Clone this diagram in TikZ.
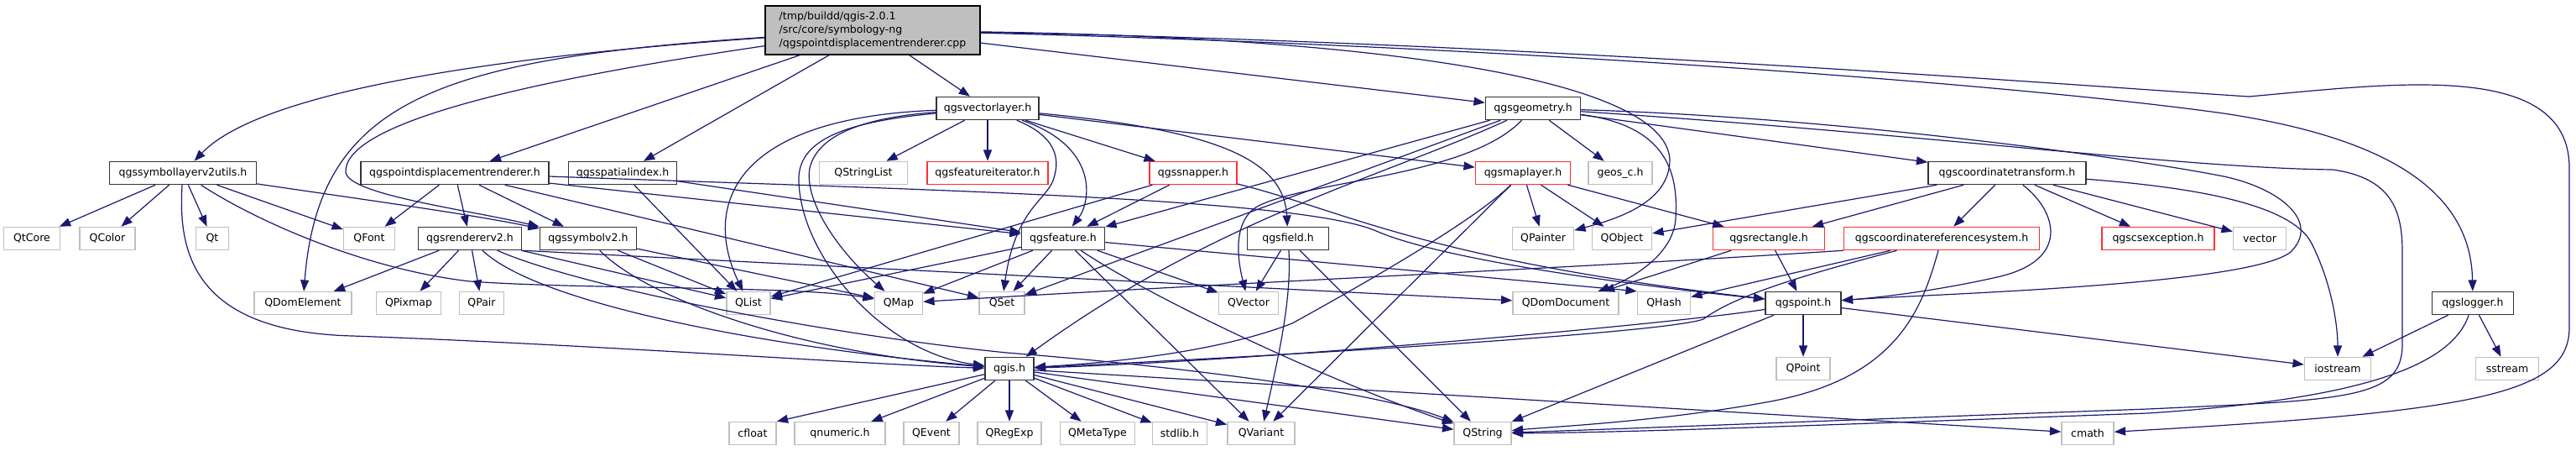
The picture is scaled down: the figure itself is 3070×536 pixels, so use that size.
\documentclass[tikz,border=0pt]{standalone}
\usepackage{fontspec}
\setmainfont{DejaVu Sans}
\usepackage{xcolor}
\definecolor{depblue}{HTML}{191970}
\definecolor{extgray}{HTML}{BFBFBF}
\definecolor{truncred}{HTML}{FF3030}
\usetikzlibrary{arrows.meta}
\tikzset{
  hdr/.style    ={rectangle, draw=black!80, fill=white, line width=1.1pt, inner sep=1pt,
                  minimum height=20.25pt, font=\fontsize{9.4}{11}\selectfont},
  ext/.style    ={hdr, draw=extgray},
  trunc/.style  ={hdr, draw=truncred},
  srcfile/.style={hdr, fill=extgray, draw=black, align=left, minimum height=43.5pt,
                  font=\fontsize{9.4}{12}\selectfont},
  wd/.style     ={minimum width=#1*0.75pt},
  dep/.style    ={-{Triangle[length=10pt,width=7.5pt]}, draw=depblue, line width=0.9pt},
}

\begin{document}
\begin{tikzpicture}[x=0.75pt, y=-0.75pt]
  \useasboundingbox (0,0) rectangle (3070,536);
  % files
  \node[srcfile, wd=256] (main) at (1040,36) {/tmp/buildd/qgis-2.0.1\\/src/core/symbology-ng\\/qgspointdisplacementrenderer.cpp};
  \node[hdr, wd=122] (vlayer) at (1177,129) {qgsvectorlayer.h};
  \node[hdr, wd=113] (geom)   at (1827,129) {qgsgeometry.h};

  \node[hdr, wd=175]   (symutils) at (218,206)  {qgssymbollayerv2utils.h};
  \node[hdr, wd=224]   (pdrend)   at (542,206)  {qgspointdisplacementrenderer.h};
  \node[hdr, wd=129]   (spidx)    at (742,206)  {qgsspatialindex.h};
  \node[ext, wd=105]   (qstrlist) at (1029,206) {QStringList};
  \node[trunc, wd=144] (featit)   at (1177,206) {qgsfeatureiterator.h};
  \node[trunc, wd=104] (snapper)  at (1422,206) {qgssnapper.h};
  \node[trunc, wd=113] (maplayer) at (1815,206) {qgsmaplayer.h};
  \node[ext, wd=76]    (geosc)    at (1931,206) {geos\_c.h};
  \node[hdr, wd=188]   (ctrans)   at (2392,206) {qgscoordinatetransform.h};

  \node[ext, wd=67]    (qtcore)   at (38,284)   {QtCore};
  \node[ext, wd=66]    (qcolor)   at (128,284)  {QColor};
  \node[ext, wd=39]    (qt)       at (253,284)  {Qt};
  \node[ext, wd=61]    (qfont)    at (440,284)  {QFont};
  \node[hdr, wd=123]   (rendv2)   at (560,284)  {qgsrendererv2.h};
  \node[hdr, wd=115]   (symv2)    at (701,284)  {qgssymbolv2.h};
  \node[hdr, wd=99]    (feature)  at (1267,284) {qgsfeature.h};
  \node[hdr, wd=97]    (field)    at (1535,284) {qgsfield.h};
  \node[ext, wd=73]    (qpainter) at (1839,284) {QPainter};
  \node[ext, wd=71]    (qobject)  at (1933,284) {QObject};
  \node[trunc, wd=133] (rect)     at (2108,284) {qgsrectangle.h};
  \node[trunc, wd=233] (crs)      at (2314,284) {qgscoordinatereferencesystem.h};
  \node[trunc, wd=134] (csexc)    at (2572,284) {qgscsexception.h};
  \node[ext, wd=63]    (vector)   at (2693,284) {vector};

  \node[ext, wd=116] (qdomel)  at (361,361)  {QDomElement};
  \node[ext, wd=77]  (qpixmap) at (487,361)  {QPixmap};
  \node[ext, wd=53]  (qpair)   at (574,361)  {QPair};
  \node[ext, wd=52]  (qlist)   at (892,361)  {QList};
  \node[ext, wd=57]  (qmap)    at (1071,361) {QMap};
  \node[ext, wd=54]  (qset)    at (1194,361) {QSet};
  \node[ext, wd=71]  (qvector) at (1488,361) {QVector};
  \node[ext, wd=126] (qdomdoc) at (1866,361) {QDomDocument};
  \node[ext, wd=63]  (qhash)   at (1983,361) {QHash};
  \node[hdr, wd=90]  (point)   at (2149,361) {qgspoint.h};
  \node[hdr, wd=97]  (logger)  at (2947,361) {qgslogger.h};

  \node[hdr, wd=58] (qgis)     at (1203,439) {qgis.h};
  \node[ext, wd=64] (qpoint)   at (2149,439) {QPoint};
  \node[ext, wd=79] (iostream) at (2786,439) {iostream};
  \node[ext, wd=75] (sstream)  at (2988,439) {sstream};

  \node[ext, wd=56]  (cfloat)    at (897,516)  {cfloat};
  \node[ext, wd=108] (qnumeric)  at (1001,516) {qnumeric.h};
  \node[ext, wd=66]  (qevent)    at (1110,516) {QEvent};
  \node[ext, wd=76]  (qregexp)   at (1203,516) {QRegExp};
  \node[ext, wd=89]  (qmetatype) at (1308,516) {QMetaType};
  \node[ext, wd=65]  (stdlib)    at (1406,516) {stdlib.h};
  \node[ext, wd=80]  (qvariant)  at (1503,516) {QVariant};
  \node[ext, wd=68]  (qstring)   at (1767,516) {QString};
  \node[ext, wd=62]  (cmath)     at (2488,516) {cmath};

  % includes of the source file
  \draw[dep] (main) .. controls (520,72) and (300,120) .. (symutils);
  \draw[dep] (main) .. controls (520,70) and (380,120) .. (qdomel);
  \draw[dep] (main) .. controls (600,100) and (410,150) .. (412,205) .. controls (415,232) and (560,250) .. (symv2);
  \draw[dep] (main) -- (pdrend);
  \draw[dep] (main) -- (spidx);
  \draw[dep] (main) -- (vlayer);
  \draw[dep] (main) -- (geom);
  \draw[dep] (main) .. controls (1650,45) and (1985,95) .. (1990,190) .. controls (1990,240) and (1930,260) .. (qpainter);
  \draw[dep] (main) .. controls (1800,55) and (2400,100) .. (2650,135) .. controls (2850,165) and (2945,230) .. (logger);
  \draw[dep] (main) .. controls (1800,50) and (2450,100) .. (2680,115) .. controls (2850,100) and (3062,70) .. (3062,200) -- (3062,390) .. controls (3062,470) and (2950,490) .. (cmath);

  % qgssymbollayerv2utils.h
  \draw[dep] (symutils) -- (qtcore);
  \draw[dep] (symutils) -- (qcolor);
  \draw[dep] (symutils) -- (qt);
  \draw[dep] (symutils) -- (qfont);
  \draw[dep] (symutils) .. controls (450,240) and (560,255) .. (symv2);
  \draw[dep] (symutils) .. controls (300,260) and (430,320) .. (560,335) .. controls (700,345) and (950,340) .. (qmap);
  \draw[dep] (symutils) .. controls (212,300) and (230,395) .. (420,400) .. controls (700,410) and (1050,435) .. (qgis);

  % qgspointdisplacementrenderer.h
  \draw[dep] (pdrend) -- (qfont);
  \draw[dep] (pdrend) -- (rendv2);
  \draw[dep] (pdrend) -- (symv2);
  \draw[dep] (pdrend) -- (qset);
  \draw[dep] (pdrend) -- (feature);
  \draw[dep] (pdrend) .. controls (1100,226) and (1550,236) .. (1640,275) .. controls (1720,310) and (1950,340) .. (point);

  % qgsspatialindex.h
  \draw[dep] (spidx) -- (qlist);
  \draw[dep] (spidx) -- (feature);

  % qgsvectorlayer.h
  \draw[dep] (vlayer) -- (qstrlist);
  \draw[dep] (vlayer) -- (featit);
  \draw[dep] (vlayer) -- (snapper);
  \draw[dep] (vlayer) -- (maplayer);
  \draw[dep] (vlayer) .. controls (1310,175) and (1300,240) .. (feature);
  \draw[dep] (vlayer) .. controls (1265,165) and (1262,195) .. (1255,215) .. controls (1245,240) and (1210,250) .. (qset);
  \draw[dep] (vlayer) .. controls (1450,155) and (1530,190) .. (field);
  \draw[dep] (vlayer) .. controls (880,140) and (835,240) .. (qlist);
  \draw[dep] (vlayer) .. controls (1030,140) and (975,160) .. (965,200) .. controls (958,240) and (1000,300) .. (qmap);
  \draw[dep] (vlayer) .. controls (1010,145) and (955,165) .. (952,210) .. controls (950,300) and (1050,420) .. (qgis);

  % qgsgeometry.h
  \draw[dep] (geom) -- (geosc);
  \draw[dep] (geom) -- (ctrans);
  \draw[dep] (geom) .. controls (1990,150) and (2000,210) .. (1997,260) .. controls (1995,300) and (1950,330) .. (qdomdoc);
  \draw[dep] (geom) .. controls (2300,160) and (2600,200) .. (2780,202) .. controls (2850,212) and (2863,250) .. (2863,300) -- (2863,410) .. controls (2863,475) and (2800,476) .. (2560,487) .. controls (2200,500) and (1900,512) .. (qstring);
  \draw[dep] (geom) .. controls (2200,140) and (2550,190) .. (2650,210) .. controls (2720,225) and (2765,265) .. (2730,300) .. controls (2680,340) and (2300,350) .. (point);
  \draw[dep] (geom) -- (feature);
  \draw[dep] (geom) -- (qset);
  \draw[dep] (geom) .. controls (1650,210) and (1450,260) .. (qgis);
  \draw[dep] (geom) .. controls (1750,210) and (1560,215) .. (1500,245) .. controls (1468,262) and (1475,310) .. (qvector);

  % qgsmaplayer.h
  \draw[dep] (maplayer) -- (qpainter);
  \draw[dep] (maplayer) -- (qobject);
  \draw[dep] (maplayer) -- (rect);
  \draw[dep] (maplayer) .. controls (1760,260) and (1640,330) .. (1540,385) .. controls (1450,420) and (1320,432) .. (qgis);
  \draw[dep] (maplayer) -- (qvariant);

  % qgsfeature.h
  \draw[dep] (feature) -- (qlist);
  \draw[dep] (feature) -- (qmap);
  \draw[dep] (feature) -- (qset);
  \draw[dep] (feature) -- (qvariant);
  \draw[dep] (feature) -- (qvector);
  \draw[dep] (feature) .. controls (1380,360) and (1600,460) .. (qstring);
  \draw[dep] (feature) -- (qhash.north west);

  % qgsfield.h
  \draw[dep] (field) -- (qvector);
  \draw[dep] (field) .. controls (1540,360) and (1520,440) .. (qvariant);
  \draw[dep] (field) -- (qstring);

  % qgssnapper.h
  \draw[dep] (snapper) -- (qlist);
  \draw[dep] (snapper) -- (feature);
  \draw[dep] (snapper) .. controls (1600,250) and (1700,310) .. (point);

  % qgscoordinatetransform.h
  \draw[dep] (ctrans) -- (qobject);
  \draw[dep] (ctrans) -- (rect);
  \draw[dep] (ctrans) -- (crs);
  \draw[dep] (ctrans) .. controls (2450,250) and (2470,310) .. (2380,330) .. controls (2300,348) and (2230,355) .. (point);
  \draw[dep] (ctrans) -- (csexc);
  \draw[dep] (ctrans) -- (vector);
  \draw[dep] (ctrans) .. controls (2600,222) and (2730,240) .. (2755,290) .. controls (2780,340) and (2786,390) .. (iostream);

  % qgsrectangle.h
  \draw[dep] (rect) -- (point);
  \draw[dep] (rect) -- (qdomdoc);

  % qgscoordinatereferencesystem.h
  \draw[dep] (crs.south west) .. controls (1900,318) and (1500,335) .. (qmap);
  \draw[dep] (crs) -- (qhash);
  \draw[dep] (crs) .. controls (2160,325) and (2070,350) .. (2030,380) .. controls (1990,395) and (1600,420) .. (qgis);
  \draw[dep] (crs) .. controls (2290,370) and (2260,450) .. (2110,478) .. controls (1980,502) and (1850,508) .. (qstring);

  % qgspoint.h
  \draw[dep] (point) -- (qpoint);
  \draw[dep] (point) -- (iostream);
  \draw[dep] (point) -- (qstring);
  \draw[dep] (point) .. controls (2000,385) and (1500,430) .. (qgis);

  % qgslogger.h
  \draw[dep] (logger) -- (iostream);
  \draw[dep] (logger) -- (sstream);
  \draw[dep] (logger) .. controls (2920,440) and (2800,476) .. (2560,492) .. controls (2200,505) and (1950,515) .. (qstring);

  % qgssymbolv2.h
  \draw[dep] (symv2) .. controls (770,355) and (950,420) .. (qgis);
  \draw[dep] (symv2) -- (qlist);
  \draw[dep] (symv2) -- (qmap);

  % qgsrendererv2.h
  \draw[dep] (rendv2) -- (qdomel);
  \draw[dep] (rendv2) -- (qpixmap);
  \draw[dep] (rendv2) -- (qpair);
  \draw[dep] (rendv2) -- (qlist);
  \draw[dep] (rendv2.south east) -- (qdomdoc);
  \draw[dep] (rendv2) .. controls (640,360) and (900,412) .. (qgis);
  \draw[dep] (rendv2) .. controls (700,345) and (1000,400) .. (1200,420) .. controls (1450,440) and (1650,470) .. (qstring);

  % qgis.h
  \draw[dep] (qgis) -- (cfloat.north east);
  \draw[dep] (qgis) -- (qnumeric);
  \draw[dep] (qgis) -- (qevent);
  \draw[dep] (qgis) -- (qregexp);
  \draw[dep] (qgis) -- (qmetatype);
  \draw[dep] (qgis) -- (stdlib);
  \draw[dep] (qgis) -- (qvariant);
  \draw[dep] (qgis) -- (qstring);
  \draw[dep] (qgis) -- (cmath);
\end{tikzpicture}
\end{document}
